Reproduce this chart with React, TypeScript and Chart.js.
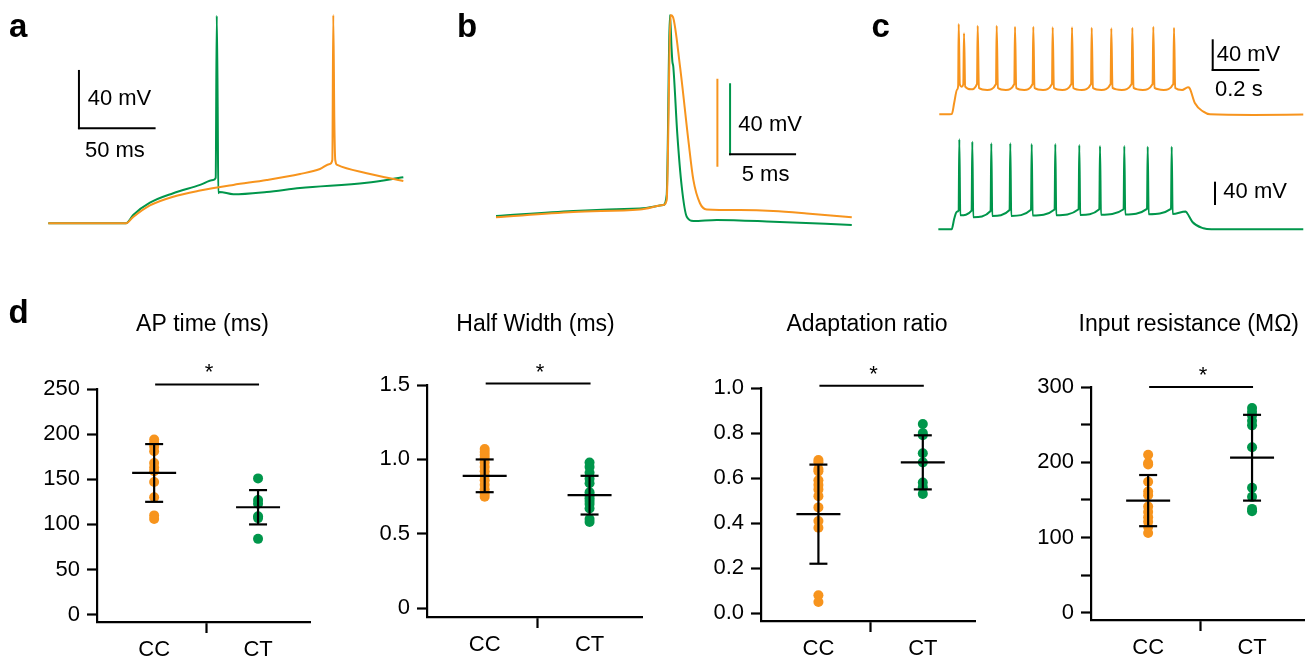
import React, { useEffect, useRef } from 'react';
import { Chart, registerables } from 'chart.js';

Chart.register(...registerables);

const FONT = '"Liberation Sans", Arial, Helvetica, sans-serif';
const ORANGE = '#F7941D';
const GREEN = '#00964B';
const BLACK = '#000000';

type Pt = [number, number];

// ---------- panel a: single AP at rheobase (t in ms, V in mV) ----------
const traceA_CC: Pt[] = [
  [0, -70], [50.7, -70], [55.4, -65.7], [66.3, -57.8], [81.5, -51.8], [99, -47.6],
  [120.7, -43.7], [142.5, -40.3], [164.2, -36.2], [177.2, -32.8], [183.7, -29.3],
  [185.3, -26.6], [185.9, 72.9], [186.6, 0], [187.2, -26.6], [188.5, -30],
  [207.7, -35.7], [231.6, -41],
];
const traceA_CT: Pt[] = [
  [0, -70], [50.7, -70], [55.4, -64.3], [66.3, -55.9], [81.5, -49.4], [99, -43.7],
  [107.6, -40.3], [109.2, -38.9], [109.9, 72.4], [110.5, 10], [110.9, -49.4],
  [111.7, -48.5], [120.7, -50.1], [142.5, -48.5], [164.2, -45.8], [207.7, -42.2],
  [231.6, -38.4],
];

// ---------- panel b: AP waveform (t in ms, V in mV) ----------
const traceB_CC: Pt[] = [
  [0, -70], [5.86, -67.6], [10.9, -66.4], [12.67, -64.4], [12.93, -62.1], [13.23, 22],
  [13.41, 21], [13.94, -1.5], [14.57, -34.9], [14.95, -53], [15.45, -63.6], [15.96, -66.4],
  [18.48, -66.7], [21.0, -67.1], [23.54, -68.2], [26.95, -70],
];
const traceB_CT: Pt[] = [
  [0, -69.3], [5.86, -66.5], [10.9, -65], [12.67, -63.1], [12.93, -57.4], [13.18, 44],
  [13.3, 25], [13.36, 17.7], [13.43, 14.8], [13.73, -22.7], [14.07, -52.8], [14.45, -69.7],
  [14.95, -72.1], [16.72, -71.5], [21.0, -72.5], [26.95, -74.3],
];

// ---------- panel c: spike trains (t in ms, V in mV) ----------
const traceC_CC: Pt[] = [
  [-46, -70], [8, -69.5], [18, -55], [30, -38], [35, -33],
  [37.3, 47.7], [42, -31], [50, -34], [57, -31],
  [60, 35.5], [65, -34], [90, -37.5], [115.7, -30.5],
  [118.7, 45.4], [123.7, -35.7], [159.4, -38.3], [197.1, -30.5],
  [200.1, 45.4], [205.1, -35.7], [239.4, -38.3], [275.6, -30.5],
  [278.6, 44.1], [283.6, -35.7], [317.8, -38.3], [354, -30.5],
  [357, 44.1], [362, -35.7], [398.6, -38.3], [437.1, -30.5],
  [440.1, 43.4], [445.1, -35.7], [481.5, -38.3], [519.9, -30.5],
  [522.9, 43.4], [527.9, -35.7], [565.1, -38.3], [604.3, -30.5],
  [607.3, 42.8], [612.3, -35.7], [649.3, -38.3], [688.3, -30.5],
  [691.3, 42.0], [696.3, -35.7], [736.4, -38.3], [778.4, -30.5],
  [781.4, 42.8], [786.4, -35.7], [826.4, -38.3], [868.3, -30.5],
  [871.3, 44.1], [876.3, -35.7], [915.7, -38.3], [957, -30.5],
  [960, 42.8], [965, -35.7], [995, -38.3], [1020, -34.8], [1027, -36],
  [1050, -55.7], [1086, -66.6], [1114, -70], [1300, -70.8], [1514, -70.3],
];
const traceC_CT: Pt[] = [
  [-50, -70], [7, -70], [18, -52], [29, -40], [37, -37.5],
  [39.9, 84.5], [44, -46], [92.6, -38],
  [95.6, 80.4], [99.6, -49.4], [174, -38.6],
  [177, 77.6], [181, -47.2], [255.4, -36.9],
  [258.4, 77.6], [262.4, -47], [347.1, -36.5],
  [350.1, 76.4], [354.1, -46.5], [448.3, -36],
  [451.3, 76.4], [455.3, -46], [551.1, -35.7],
  [554.1, 74.7], [558.1, -45.5], [639.9, -35.7],
  [642.9, 73.0], [646.9, -45], [744, -35.5],
  [747, 73.0], [751, -44.5], [844.3, -35],
  [847.3, 71.8], [851.3, -44], [947.1, -35],
  [950.1, 71.8], [954.1, -43.7], [1010, -39.5], [1016, -42],
  [1040, -58], [1086, -68.3], [1120, -70], [1514, -70],
];

// ---------- panel d: group statistics ----------
const categories = ['CC', 'CT'];

const apTimeCC = [194, 190, 186, 181, 168, 163, 159, 147, 130, 110, 106];
const apTimeCT = [151, 127, 123, 109, 107, 84];
const apTimeMean = [157, 119];
const apTimeSd = [32, 19];
const apTimeTicks = [0, 50, 100, 150, 200, 250];
const apTimeTickLabels = ['0', '50', '100', '150', '200', '250'];

const halfWidthCC = [1.07, 1.05, 1.03, 1.01, 0.98, 0.95, 0.92, 0.89, 0.86, 0.83, 0.8, 0.77, 0.75];
const halfWidthCT = [0.98, 0.95, 0.91, 0.87, 0.84, 0.78, 0.76, 0.74, 0.72, 0.7, 0.67, 0.6, 0.58];
const halfWidthMean = [0.89, 0.76];
const halfWidthSd = [0.11, 0.13];
const halfWidthTicks = [0, 0.5, 1.0, 1.5];
const halfWidthTickLabels = ['0', '0.5', '1.0', '1.5'];

const adaptCC = [0.68, 0.67, 0.64, 0.63, 0.59, 0.57, 0.55, 0.52, 0.47, 0.41, 0.38, 0.08, 0.05];
const adaptCT = [0.84, 0.8, 0.79, 0.71, 0.67, 0.58, 0.56, 0.53];
const adaptMean = [0.44, 0.67];
const adaptSd = [0.22, 0.12];
const adaptTicks = [0, 0.2, 0.4, 0.6, 0.8, 1.0];
const adaptTickLabels = ['0.0', '0.2', '0.4', '0.6', '0.8', '1.0'];

const rinCC = [210, 199, 197, 174, 161, 156, 141, 134, 127, 121, 114, 106];
const rinCT = [272, 267, 262, 255, 249, 220, 166, 154, 138, 135];
const rinMean = [149, 206];
const rinSd = [34, 57];
const rinTicks = [0, 50, 100, 150, 200, 250, 300];
const rinTickLabels = ['0', '', '100', '', '200', '', '300'];

const sigLevels = [255, 1.51, 1.01, 300];

// ---------- plugins ----------
const scaleBarPlugin = {
  id: 'scaleBars',
  afterDatasetsDraw(chart: any, _args: any, opts: any) {
    const ctx = chart.ctx;
    const xs = chart.scales.x;
    for (const b of opts.bars || []) {
      const ys = chart.scales[b.yAxis];
      const px = xs.getPixelForValue(b.t);
      const py = ys.getPixelForValue(b.v);
      ctx.save();
      ctx.lineWidth = 2;
      ctx.lineCap = 'butt';
      if (b.dv) {
        ctx.strokeStyle = b.vColor;
        ctx.beginPath();
        ctx.moveTo(px, py + (b.dt ? 1 : 0));
        ctx.lineTo(px, ys.getPixelForValue(b.v + b.dv));
        ctx.stroke();
      }
      if (b.dt) {
        ctx.strokeStyle = b.hColor;
        ctx.beginPath();
        ctx.moveTo(px - (b.dv ? 1 : 0), py);
        ctx.lineTo(xs.getPixelForValue(b.t + b.dt), py);
        ctx.stroke();
      }
      ctx.fillStyle = BLACK;
      ctx.font = `22px ${FONT}`;
      ctx.textBaseline = 'middle';
      ctx.textAlign = 'left';
      for (const l of b.labels || []) ctx.fillText(l.text, px + l.dx, py + l.dy);
      ctx.restore();
    }
  },
};

const dotExtrasPlugin = {
  id: 'dotExtras',
  afterDatasetsDraw(chart: any, _args: any, o: any) {
    const { ctx, chartArea } = chart;
    const xs = chart.scales.x;
    const ys = chart.scales.y;
    const line = (x1: number, y1: number, x2: number, y2: number) => {
      ctx.beginPath();
      ctx.moveTo(x1, y1);
      ctx.lineTo(x2, y2);
      ctx.stroke();
    };
    ctx.save();
    ctx.strokeStyle = BLACK;
    ctx.lineWidth = 2.2;
    [1, 2].forEach((cat, i) => {
      const cx = xs.getPixelForValue(cat);
      const m = ys.getPixelForValue(o.means[i]);
      const top = ys.getPixelForValue(o.means[i] + o.sds[i]);
      const bot = ys.getPixelForValue(o.means[i] - o.sds[i]);
      line(cx, top, cx, bot);
      line(cx - 22, m, cx + 22, m);
      line(cx - 9, top, cx + 9, top);
      line(cx - 9, bot, cx + 9, bot);
    });
    const x1 = xs.getPixelForValue(1);
    const x2 = xs.getPixelForValue(2);
    const sy = ys.getPixelForValue(o.sigLevel);
    line(x1 + 1, sy, x2 + 1, sy);
    ctx.fillStyle = BLACK;
    ctx.textAlign = 'center';
    ctx.textBaseline = 'alphabetic';
    ctx.font = `22px ${FONT}`;
    ctx.fillText('*', (x1 + x2) / 2 + 3, sy - 5);
    ctx.font = `23px ${FONT}`;
    ctx.fillText(o.title, (chartArea.left + chartArea.right) / 2 + o.titleDx, o.titleBaseline);
    ctx.restore();
  },
};

// ---------- configs ----------
const toXY = (arr: Pt[]) => arr.map(([x, y]) => ({ x, y }));

function traceDataset(arr: Pt[], color: string, yAxisID = 'y') {
  return {
    data: toXY(arr),
    showLine: true,
    borderColor: color,
    borderWidth: 2,
    pointRadius: 0,
    cubicInterpolationMode: 'monotone',
    yAxisID,
  };
}

const hiddenLinear = (min: number, max: number) => ({ type: 'linear', display: false, min, max });

function traceConfig(datasets: any[], scales: any, bars: any[]) {
  return {
    type: 'scatter',
    data: { datasets },
    options: {
      responsive: false,
      animation: false,
      devicePixelRatio: 1,
      events: [],
      layout: { padding: 0 },
      plugins: { legend: { display: false }, tooltip: { enabled: false }, scaleBars: { bars } },
      scales,
    },
    plugins: [scaleBarPlugin],
  };
}

const configA = () =>
  traceConfig(
    [traceDataset(traceA_CC, ORANGE), traceDataset(traceA_CT, GREEN)],
    { x: hiddenLinear(-31.5, 249), y: hiddenLinear(-81.5, 83.2) },
    [
      {
        yAxis: 'y', t: 20, v: -4.8, dv: 40, dt: 50, vColor: BLACK, hColor: BLACK,
        labels: [{ text: '40 mV', dx: 8.7, dy: -29 }, { text: '50 ms', dx: 6, dy: 22.7 }],
      },
    ]
  );

const configB = () =>
  traceConfig(
    [traceDataset(traceB_CC, ORANGE, 'yO'), traceDataset(traceB_CT, GREEN, 'yG')],
    { x: hiddenLinear(-4.242, 28.33), yO: hiddenLinear(-80.3, 28.8), yG: hiddenLinear(-82.8, 52.4) },
    [
      { yAxis: 'yO', t: 16.77, v: -47, dv: 40, dt: 0, vColor: ORANGE, hColor: BLACK, labels: [] },
      {
        yAxis: 'yG', t: 17.73, v: -34.5, dv: 40, dt: 5, vColor: GREEN, hColor: BLACK,
        labels: [{ text: '40 mV', dx: 8.3, dy: -29.3 }, { text: '5 ms', dx: 11.7, dy: 20.7 }],
      },
    ]
  );

const configC = () =>
  traceConfig(
    [traceDataset(traceC_CC, ORANGE, 'yO'), traceDataset(traceC_CT, GREEN, 'yG')],
    { x: hiddenLinear(-342.9, 1560), yO: hiddenLinear(-233.8, 78.9), yG: hiddenLinear(-88.4, 323.6) },
    [
      {
        yAxis: 'yO', t: 1125.9, v: -12.3, dv: 40, dt: 200, vColor: BLACK, hColor: BLACK,
        labels: [{ text: '40 mV', dx: 4, dy: -15 }, { text: '0.2 s', dx: 2.3, dy: 20 }],
      },
      {
        yAxis: 'yG', t: 1135.7, v: -28.3, dv: 40, dt: 0, vColor: BLACK, hColor: BLACK,
        labels: [{ text: '40 mV', dx: 8.3, dy: -13.3 }],
      },
    ]
  );

interface DPanel {
  title: string; cc: number[]; ct: number[]; means: number[]; sds: number[];
  ticks: number[]; tickLabels: string[]; yMin: number; yMax: number; sig: number;
  left: number; chartW: number; padTop: number; axisH: number; titleDx: number;
}

const Y_AXIS_W = 90;
const PAD_RIGHT = 10;
const D_TOP = 290;
const D_HEIGHT = 372;

const dPanels: DPanel[] = [
  { title: 'AP time (ms)', cc: apTimeCC, ct: apTimeCT, means: apTimeMean, sds: apTimeSd, ticks: apTimeTicks, tickLabels: apTimeTickLabels, yMin: -8.09, yMax: 250, sig: sigLevels[0], left: 7, chartW: 213, padTop: 99, axisH: 40, titleDx: -1 },
  { title: 'Half Width (ms)', cc: halfWidthCC, ct: halfWidthCT, means: halfWidthMean, sds: halfWidthSd, ticks: halfWidthTicks, tickLabels: halfWidthTickLabels, yMin: -0.0584, yMax: 1.5, sig: sigLevels[1], left: 337, chartW: 215, padTop: 95, axisH: 45, titleDx: 1 },
  { title: 'Adaptation ratio', cc: adaptCC, ct: adaptCT, means: adaptMean, sds: adaptSd, ticks: adaptTicks, tickLabels: adaptTickLabels, yMin: -0.0342, yMax: 1.0, sig: sigLevels[2], left: 671, chartW: 214, padTop: 98, axisH: 41, titleDx: -1 },
  { title: 'Input resistance (MΩ)', cc: rinCC, ct: rinCT, means: rinMean, sds: rinSd, ticks: rinTicks, tickLabels: rinTickLabels, yMin: -9.7, yMax: 300, sig: sigLevels[3], left: 1001, chartW: 213, padTop: 97, axisH: 42, titleDx: -8.7 },
];

function dotConfig(p: DPanel) {
  const font = { family: FONT, size: 22 };
  return {
    type: 'scatter',
    data: {
      datasets: [
        { data: p.cc.map((v) => ({ x: 1, y: v })), backgroundColor: ORANGE, pointRadius: 5, borderWidth: 0 },
        { data: p.ct.map((v) => ({ x: 2, y: v })), backgroundColor: GREEN, pointRadius: 5, borderWidth: 0 },
      ],
    },
    options: {
      responsive: false,
      animation: false,
      devicePixelRatio: 1,
      events: [],
      layout: { padding: { top: p.padTop, right: PAD_RIGHT, left: 0, bottom: 0 } },
      plugins: {
        legend: { display: false },
        tooltip: { enabled: false },
        dotExtras: { title: p.title, means: p.means, sds: p.sds, sigLevel: p.sig, titleDx: p.titleDx, titleBaseline: 41 },
      },
      scales: {
        x: {
          type: 'linear',
          min: 0.45,
          max: 2.5,
          afterBuildTicks: (s: any) => { s.ticks = [1, 1.5, 2].map((value) => ({ value })); },
          afterFit: (s: any) => { s.height = p.axisH; },
          ticks: {
            autoSkip: false,
            maxRotation: 0,
            padding: 4,
            color: BLACK,
            font,
            callback: (v: number) => (v === 1 ? categories[0] : v === 2 ? categories[1] : ''),
          },
          grid: {
            drawOnChartArea: false,
            drawTicks: true,
            tickLength: 11,
            tickWidth: 2.2,
            tickColor: (ctx: any) => (ctx.tick && ctx.tick.value === 1.5 ? BLACK : 'rgba(0,0,0,0)'),
          },
          border: { display: true, color: BLACK, width: 2.2 },
        },
        y: {
          type: 'linear',
          min: p.yMin,
          max: p.yMax,
          afterBuildTicks: (s: any) => { s.ticks = p.ticks.map((value) => ({ value })); },
          afterFit: (s: any) => { s.width = Y_AXIS_W; },
          ticks: {
            autoSkip: false,
            padding: 7,
            color: BLACK,
            font,
            callback: (_v: number, i: number) => p.tickLabels[i],
          },
          grid: {
            drawOnChartArea: false,
            drawTicks: true,
            tickLength: 10,
            tickWidth: 2.2,
            tickColor: BLACK,
          },
          border: { display: true, color: BLACK, width: 2.2 },
        },
      },
    },
    plugins: [dotExtrasPlugin],
  };
}

// ---------- components ----------
function ChartCanvas({ left, top, width, height, makeConfig }: any) {
  const ref = useRef<HTMLCanvasElement>(null);
  useEffect(() => {
    const chart = new Chart(ref.current as HTMLCanvasElement, makeConfig());
    return () => chart.destroy();
  }, []);
  return (
    <canvas
      ref={ref}
      width={width}
      height={height}
      style={{ position: 'absolute', left, top, width, height, display: 'block' }}
    />
  );
}

const letterStyle = (left: number, top: number): React.CSSProperties => ({
  position: 'absolute',
  left,
  top,
  fontFamily: FONT,
  fontWeight: 'bold',
  fontSize: 33,
  lineHeight: '33px',
  color: BLACK,
});

export default function App() {
  return (
    <div
      style={{
        position: 'absolute',
        left: 0,
        top: 0,
        width: 1314,
        height: 662,
        overflow: 'hidden',
        background: '#ffffff',
      }}
    >
      <ChartCanvas left={0} top={0} width={430} height={240} makeConfig={configA} />
      <ChartCanvas left={440} top={0} width={430} height={240} makeConfig={configB} />
      <ChartCanvas left={870} top={0} width={444} height={240} makeConfig={configC} />
      {dPanels.map((p, i) => (
        <ChartCanvas
          key={i}
          left={p.left}
          top={D_TOP}
          width={Y_AXIS_W + p.chartW + PAD_RIGHT}
          height={D_HEIGHT}
          makeConfig={() => dotConfig(p)}
        />
      ))}
      <div style={letterStyle(9, 8.8)}>a</div>
      <div style={letterStyle(457, 9.4)}>b</div>
      <div style={letterStyle(871.5, 8.8)}>c</div>
      <div style={letterStyle(8.5, 295.4)}>d</div>
    </div>
  );
}
